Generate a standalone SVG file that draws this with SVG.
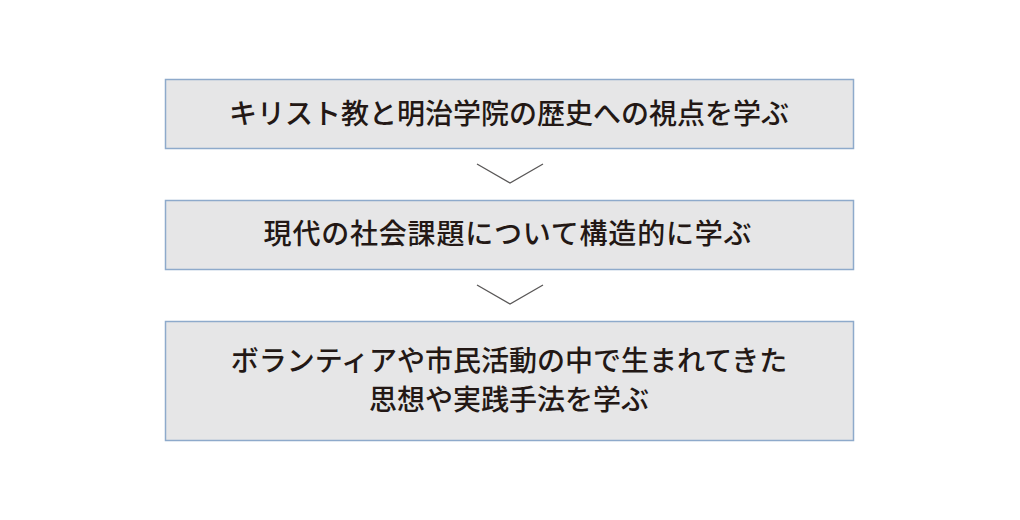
<svg xmlns="http://www.w3.org/2000/svg" width="1020" height="520" viewBox="0 0 1020 520">
  <style>
    .box { fill: #e6e6e7; stroke: #8eaacb; stroke-width: 1.5; }
    .lbl { font-family: "Noto Sans CJK JP", "Noto Sans", sans-serif; font-size: 28px; font-weight: 500; fill: #231815; text-anchor: middle; }
    .chev { fill: none; stroke: #595757; stroke-width: 1.3; }
  </style>
  <rect width="1020" height="520" fill="#ffffff"/>
  <g id="node1">
    <rect class="box" x="165.5" y="79.5" width="688" height="69"/>
    <text class="lbl" x="509" y="124">キリスト教と明治学院の歴史への視点を学ぶ</text>
  </g>
  <g id="node2">
    <rect class="box" x="165.5" y="200.5" width="688" height="69"/>
    <text class="lbl" x="508" y="244" letter-spacing="0.8">現代の社会課題について構造的に学ぶ</text>
  </g>
  <g id="node3">
    <rect class="box" x="165.5" y="321.5" width="688" height="119"/>
    <text class="lbl" x="509" y="371">ボランティアや市民活動の中で生まれてきた</text>
    <text class="lbl" x="509" y="410">思想や実践手法を学ぶ</text>
  </g>
  <g id="connectors">
    <polyline class="chev" points="477,164 510,183 543,164"/>
    <polyline class="chev" points="477,285 510,304 543,285"/>
  </g>
</svg>
